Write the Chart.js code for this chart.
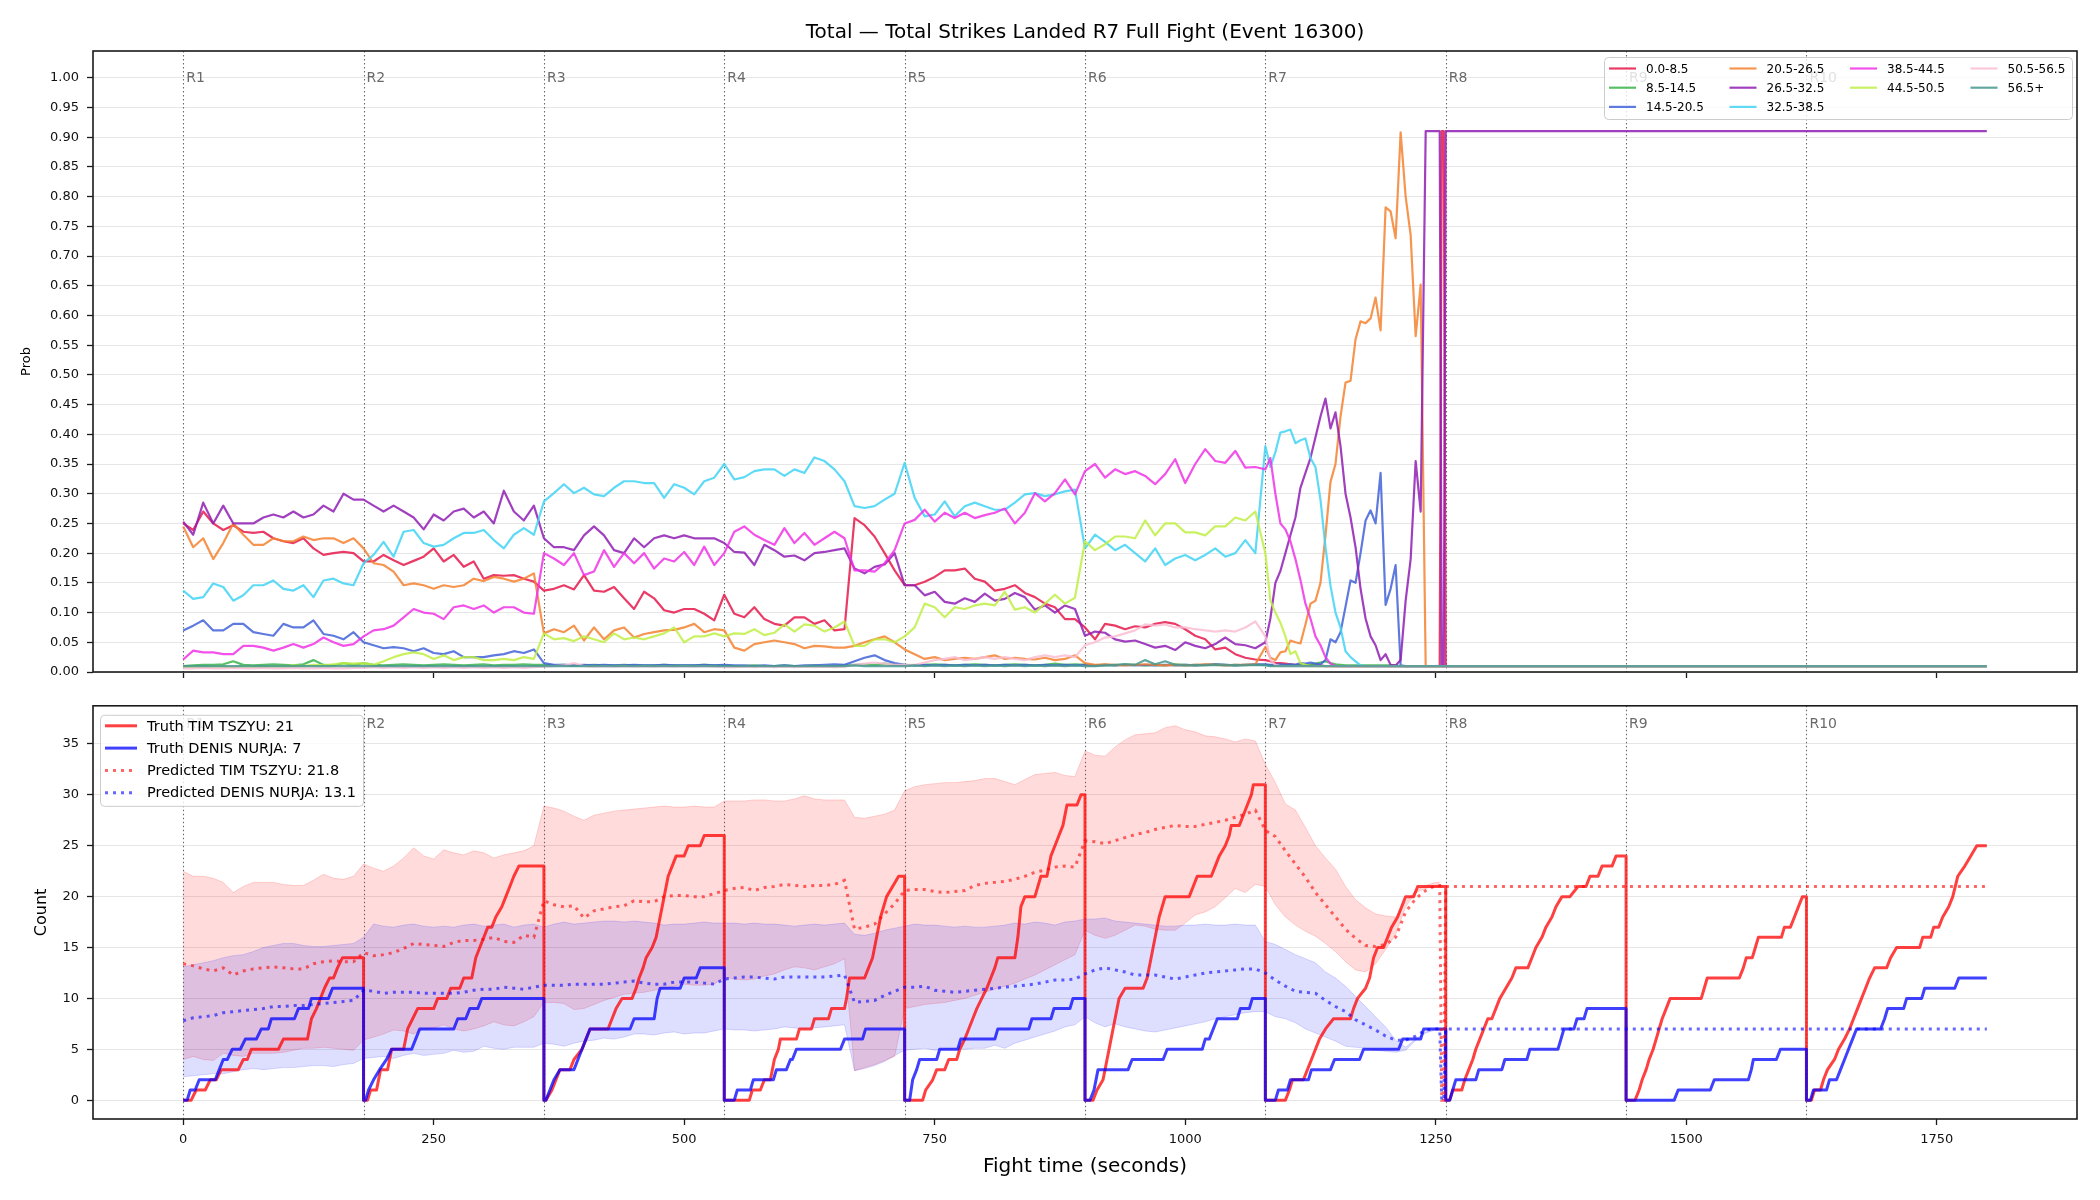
<!DOCTYPE html>
<html lang="en">
<head>
    <meta charset="UTF-8">
    <title>Total Strikes Landed R7 Full Fight</title>
    <script src="https://cdn.jsdelivr.net/npm/chart.js"></script>
    <style>
        body { margin: 0; background: #fff; font-family: 'DejaVu Sans', sans-serif; }
        .page { position: relative; width: 2100px; height: 1200px; }
        #title { position: absolute; left: 93px; width: 1984px; top: 19px; text-align: center; font-size: 20px; line-height: 24px; color: #000; }
        #probChart { position: absolute; left: 0; top: 0; }
        #countChart { position: absolute; left: 0; top: 690px; }
    </style>
</head>
<body>
<div class="page">
    <canvas id="probChart" width="2100" height="690"></canvas>
    <canvas id="countChart" width="2100" height="510"></canvas>
    <div id="title">Total — Total Strikes Landed R7 Full Fight (Event 16300)</div>
</div>

<script>
    // ---- shared axis data ----
    const timeTicks = [0, 250, 500, 750, 1000, 1250, 1500, 1750];
    const probTicks = [0, 0.05, 0.1, 0.15, 0.2, 0.25, 0.3, 0.35, 0.4, 0.45, 0.5, 0.55, 0.6, 0.65, 0.7, 0.75, 0.8, 0.85, 0.9, 0.95, 1.0];
    const countTicks = [0, 5, 10, 15, 20, 25, 30, 35];
    const roundStarts = [0, 180, 360, 540, 720, 900, 1080, 1260, 1440, 1620];
    const roundNames = ['R1', 'R2', 'R3', 'R4', 'R5', 'R6', 'R7', 'R8', 'R9', 'R10'];

    // ---- top panel: bucket probabilities ----
    const probTimes = [
        0, 10, 20, 30, 40, 50, 60, 70, 80, 90, 100, 110, 120, 130, 140, 150, 160, 170,
        180, 190, 200, 210, 220, 230, 240, 250, 260, 270, 280, 290, 300, 310, 320, 330, 340, 350,
        360, 370, 380, 390, 400, 410, 420, 430, 440, 450, 460, 470, 480, 490, 500, 510, 520, 530,
        540, 550, 560, 570, 580, 590, 600, 610, 620, 630, 640, 650, 660, 670, 680, 690, 700, 710,
        720, 730, 740, 750, 760, 770, 780, 790, 800, 810, 820, 830, 840, 850, 860, 870, 880, 890,
        900, 910, 920, 930, 940, 950, 960, 970, 980, 990, 1000, 1010, 1020, 1030, 1040, 1050, 1060, 1070,
        1080, 1085, 1090, 1095, 1100, 1105, 1110, 1115, 1120, 1125, 1130, 1135, 1140, 1145, 1150, 1155, 1160, 1165,
        1170, 1175, 1180, 1185, 1190, 1195, 1200, 1205, 1210, 1215, 1220, 1225, 1230, 1235, 1240, 1245, 1250,
        1254, 1256, 1258, 1260, 1800
    ];
    const probLabels = ['0.0-8.5', '8.5-14.5', '14.5-20.5', '20.5-26.5', '26.5-32.5',
                        '32.5-38.5', '38.5-44.5', '44.5-50.5', '50.5-56.5', '56.5+'];
    const probColors = ['#e6194b', '#3cb44b', '#4363d8', '#f58231', '#911eb4',
                        '#42d4f4', '#f032e6', '#bfef45', '#fabed4', '#469990'];

    const bin0to8 = [
        .25, .239, .27, .25, .239, .247, .236, .234, .236, .225, .22, .217, .225, .208, .197, .2, .202, .2,
        .186, .186, .197, .188, .18, .187, .194, .208, .186, .197, .177, .186, .157, .163, .162, .163, .157, .152,
        .137, .14, .146, .139, .163, .137, .135, .143, .124, .106, .135, .124, .104, .1, .106, .106, .098, .087,
        .13, .098, .092, .109, .089, .081, .078, .092, .092, .081, .087, .07, .072, .259, .247, .228, .2, .171,
        .146, .146, .152, .16, .171, .171, .174, .157, .152, .137, .14, .146, .133, .126, .115, .109, .089, .089,
        .075, .055, .081, .078, .072, .077, .075, .081, .084, .081, .072, .061, .055, .038, .041, .03, .024, .021,
        .02, .018, .015, .015, .014,
        .013, .012, .012, .012, .011,
        .011, .011, .01, .01, .01,
        .01, .01, .01, .01, .01,
        .01, .01, .01, .01, .01,
        .01, .01, .01, .01, .01,
        .01, .01, .01, .01, .01,
        .01, .91, .91, .01, .01
    ];
    const bin8to14 = [
        .01, .011, .012, .012, .013, .018, .012, .011, .012, .013, .012, .011, .013, .02, .012, .011, .015, .012,
        .015, .012, .011, .012, .013, .012, .011, .012, .013, .012, .011, .012, .013, .011, .012, .012, .013, .012,
        .012, .011, .012, .011, .011, .012, .011, .011, .012, .011, .011, .011, .012, .011, .011, .011, .012, .011,
        .011, .01, .01, .011, .01, .01, .011, .01, .01, .011, .01, .01, .011, .012, .013, .012, .014, .012,
        .012, .011, .012, .013, .012, .011, .012, .013, .012, .011, .012, .013, .012, .011, .012, .014, .012, .013,
        .012, .011, .012, .011, .013, .012, .011, .012, .011, .013, .012, .011, .012, .013, .012, .011, .012, .012,
        .012, .011, .011, .011, .011,
        .012, .011, .012, .012, .013,
        .014, .016, .018, .015, .013,
        .012, .011, .011, .011, .011,
        .011, .011, .011, .011, .011,
        .011, .011, .01, .01, .01,
        .01, .01, .01, .01, .01,
        .01, .01, .01, .01, .01
    ];
    const bin14to20 = [
        .07, .078, .087, .07, .07, .081, .081, .067, .064, .061, .081, .075, .075, .087, .064, .061, .055, .067,
        .05, .045, .04, .042, .04, .035, .04, .032, .03, .035, .025, .025, .025, .028, .03, .035, .032, .038,
        .015, .012, .012, .011, .012, .011, .012, .011, .011, .012, .011, .011, .012, .011, .011, .011, .012, .011,
        .012, .011, .011, .01, .011, .01, .011, .01, .011, .011, .012, .013, .012, .018, .024, .028, .02, .015,
        .012, .011, .012, .011, .012, .011, .012, .011, .012, .011, .012, .011, .012, .011, .012, .011, .012, .011,
        .012, .011, .012, .011, .012, .011, .012, .011, .012, .011, .012, .011, .012, .013, .012, .011, .012, .013,
        .013, .012, .012, .013, .012,
        .013, .012, .015, .014, .016,
        .014, .013, .02, .055, .05,
        .067, .11, .154, .15, .2,
        .255, .272, .25, .335, .113,
        .14, .18, .011, .01, .01,
        .01, .01, .01, .01, .01,
        .01, .01, .01, .01, .01
    ];
    const bin20to26 = [
        .245, .21, .225, .19, .217, .25, .231, .214, .214, .225, .22, .22, .228, .222, .225, .225, .217, .225,
        .208, .183, .18, .169, .146, .149, .146, .14, .146, .143, .146, .157, .153, .16, .157, .152, .157, .166,
        .065, .072, .067, .078, .053, .075, .055, .07, .075, .058, .064, .067, .07, .071, .075, .081, .067, .072,
        .07, .041, .036, .047, .05, .053, .05, .047, .04, .044, .043, .041, .041, .044, .05, .055, .06, .05,
        .038, .03, .022, .025, .02, .022, .024, .022, .025, .028, .022, .024, .022, .021, .024, .02, .022, .028,
        .015, .012, .013, .012, .011, .012, .013, .012, .011, .012, .011, .012, .013, .012, .011, .012, .012, .013,
        .042, .024, .02, .033, .035,
        .053, .05, .048, .08, .115,
        .12, .15, .23, .32, .35,
        .43, .487, .49, .56, .59,
        .587, .595, .63, .575, .782,
        .775, .73, .908, .8, .735,
        .565, .652, .01, .01, .01,
        .01, .01, .01, .01, .01
    ];
    const bin26to32 = [
        .253, .231, .285, .25, .28, .25, .25, .25, .26, .265, .26, .27, .26, .265, .28, .27, .30, .29,
        .29, .28, .27, .28, .27, .26, .24, .265, .255, .27, .275, .26, .27, .25, .305, .27, .255, .28,
        .225, .21, .21, .205, .23, .245, .23, .205, .2, .225, .21, .225, .23, .225, .23, .225, .225, .225,
        .217, .202, .201, .18, .214, .205, .194, .196, .188, .2, .202, .205, .208, .174, .166, .177, .181, .2,
        .146, .146, .129, .135, .118, .115, .124, .118, .132, .12, .123, .133, .126, .105, .112, .1, .112, .106,
        .061, .068, .066, .055, .051, .053, .047, .041, .044, .037, .05, .044, .04, .047, .058, .047, .045, .04,
        .05, .09, .15, .17, .2,
        .23, .26, .31, .335, .36,
        .395, .43, .46, .41, .437,
        .38, .3, .26, .21, .14,
        .09, .06, .045, .02, .03,
        .012, .011, .02, .12, .19,
        .355, .27, .91, .91, .91,
        .91, .01, .01, .91, .91
    ];
    const bin32to38 = [
        .137, .123, .126, .149, .143, .12, .129, .146, .146, .154, .14, .137, .146, .126, .154, .157, .149, .146,
        .183, .197, .219, .194, .236, .239, .217, .211, .214, .225, .234, .234, .239, .222, .208, .231, .242, .231,
        .287, .301, .316, .301, .31, .299, .296, .31, .321, .321, .318, .318, .293, .316, .31, .299, .321, .327,
        .35, .324, .328, .338, .341, .341, .33, .341, .335, .361, .355, .341, .321, .279, .276, .279, .29, .3,
        .352, .293, .262, .265, .287, .262, .279, .285, .279, .273, .273, .285, .299, .301, .296, .299, .304, .307,
        .208, .231, .219, .205, .214, .2, .186, .208, .18, .191, .197, .188, .197, .208, .194, .2, .222, .2,
        .38, .345, .37, .403, .405,
        .408, .385, .39, .393, .36,
        .345, .29, .21, .145, .1,
        .075, .035, .025, .018, .011,
        .01, .01, .01, .01, .01,
        .01, .01, .01, .01, .01,
        .01, .01, .01, .01, .01,
        .01, .01, .01, .01, .01
    ];
    const bin38to44 = [
        .021, .036, .033, .033, .03, .03, .044, .044, .041, .036, .041, .047, .041, .047, .058, .05, .044, .047,
        .06, .07, .072, .078, .092, .106, .1, .098, .089, .109, .112, .106, .112, .1, .109, .109, .1, .098,
        .2, .191, .18, .2, .163, .169, .205, .177, .2, .183, .2, .174, .191, .186, .202, .18, .211, .18,
        .2, .236, .245, .231, .222, .214, .242, .217, .234, .214, .225, .236, .225, .171, .171, .169, .183, .205,
        .25, .256, .273, .253, .268, .259, .268, .259, .264, .268, .275, .25, .268, .301, .287, .301, .324, .299,
        .338, .35, .327, .341, .333, .338, .33, .316, .333, .358, .318, .35, .375, .355, .352, .372, .344, .345,
        .341, .36, .3, .25, .24,
        .22, .19, .155, .115, .09,
        .06, .045, .025, .014, .01,
        .01, .01, .01, .01, .01,
        .01, .01, .01, .01, .01,
        .01, .01, .01, .01, .01,
        .01, .01, .01, .01, .01,
        .01, .01, .01, .01, .01
    ];
    const bin44to50 = [
        .008, .009, .008, .01, .009, .008, .01, .009, .008, .01, .009, .011, .01, .012, .011, .013, .015, .014,
        .015, .012, .018, .025, .03, .033, .03, .022, .028, .02, .025, .025, .02, .02, .022, .02, .025, .022,
        .065, .055, .057, .052, .06, .055, .05, .065, .055, .058, .055, .06, .065, .075, .05, .06, .06, .065,
        .06, .065, .064, .072, .062, .066, .08, .068, .08, .078, .068, .075, .085, .044, .044, .055, .055, .05,
        .06, .075, .115, .109, .092, .109, .106, .112, .115, .112, .135, .105, .109, .1, .115, .13, .115, .125,
        .22, .205, .215, .228, .228, .225, .255, .23, .25, .25, .235, .235, .23, .245, .245, .26, .255, .27,
        .2, .12, .1, .083, .06,
        .03, .035, .015, .012, .01,
        .01, .01, .01, .01, .01,
        .01, .01, .01, .01, .01,
        .01, .01, .01, .01, .01,
        .01, .01, .01, .01, .01,
        .01, .01, .01, .01, .01,
        .01, .01, .01, .01, .01
    ];
    const bin50to56 = [
        .006, .006, .007, .006, .006, .007, .006, .006, .007, .006, .006, .007, .006, .006, .007, .006, .006, .007,
        .007, .008, .007, .008, .007, .008, .007, .008, .007, .008, .007, .008, .007, .008, .007, .008, .007, .008,
        .009, .01, .011, .015, .01, .009, .01, .009, .01, .009, .01, .009, .01, .009, .01, .009, .01, .009,
        .008, .008, .009, .008, .009, .008, .009, .008, .009, .008, .009, .008, .009, .012, .014, .016, .014, .012,
        .012, .012, .016, .02, .022, .025, .02, .022, .025, .022, .025, .022, .02, .025, .028, .025, .028, .025,
        .045, .05, .058, .06, .065, .07, .08, .078, .08, .075, .075, .072, .07, .068, .07, .068, .075, .085,
        .06, .02, .012, .01, .01,
        .01, .01, .01, .01, .01,
        .01, .01, .01, .01, .01,
        .01, .01, .01, .01, .01,
        .01, .01, .01, .01, .01,
        .01, .01, .01, .01, .01,
        .01, .01, .01, .01, .01,
        .01, .01, .01, .01, .01
    ];
    const bin56up = [
        .01, .01, .01, .01, .01, .01, .01, .01, .01, .01, .01, .01, .01, .01, .01, .01, .01, .01,
        .01, .01, .01, .01, .01, .01, .01, .01, .01, .01, .01, .01, .01, .01, .01, .01, .01, .01,
        .01, .01, .01, .01, .01, .01, .01, .01, .01, .01, .01, .01, .01, .01, .01, .01, .01, .01,
        .01, .01, .01, .01, .01, .01, .01, .01, .01, .01, .01, .01, .01, .011, .01, .01, .01, .01,
        .01, .011, .01, .011, .01, .011, .01, .011, .01, .011, .01, .011, .01, .011, .01, .011, .01, .011,
        .01, .01, .011, .012, .013, .012, .02, .013, .018, .012, .011, .012, .011, .012, .011, .012, .011, .012,
        .011, .01, .01, .01, .01,
        .01, .01, .01, .01, .01,
        .01, .01, .01, .01, .01,
        .01, .01, .01, .01, .01,
        .01, .01, .01, .01, .01,
        .01, .01, .01, .01, .01,
        .01, .01, .01, .01, .01,
        .01, .01, .01, .01, .01
    ];
    const probSeries = [bin0to8, bin8to14, bin14to20, bin20to26, bin26to32,
                        bin32to38, bin38to44, bin44to50, bin50to56, bin56up];

    // ---- bottom panel: counts ----
    const predTimes = [
        0, 10, 20, 30, 40, 50, 60, 70, 80, 90, 100, 110, 120, 130, 140, 150, 160, 170,
        180, 190, 200, 210, 220, 230, 240, 250, 260, 270, 280, 290, 300, 310, 320, 330, 340, 350,
        360, 370, 380, 390, 400, 410, 420, 430, 440, 450, 460, 470, 480, 490, 500, 510, 520, 530,
        540, 550, 560, 570, 580, 590, 600, 610, 620, 630, 640, 650, 660, 670, 680, 690, 700, 710,
        720, 730, 740, 750, 760, 770, 780, 790, 800, 810, 820, 830, 840, 850, 860, 870, 880, 890,
        900, 910, 920, 930, 940, 950, 960, 970, 980, 990, 1000, 1010, 1020, 1030, 1040, 1050, 1060, 1070,
        1080, 1090, 1100, 1110, 1120, 1130, 1140, 1150, 1160, 1170, 1180, 1190, 1200, 1210, 1220, 1230, 1240, 1250,
        1254, 1256, 1258, 1260, 1800
    ];
    const tszyuPred = [
        13.4, 13.2, 12.9, 12.7, 13.0, 12.3, 12.7, 12.9, 13.0, 13.1, 13.0, 12.9, 12.9, 13.4, 13.6, 13.7, 13.6, 13.6,
        14.5, 14.2, 14.3, 14.5, 14.9, 15.4, 15.3, 15.2, 15.1, 15.5, 15.7, 15.7, 15.8, 16.0, 15.6, 15.5, 16.2, 16.0,
        19.6, 19.2, 19.0, 19.1, 17.9, 18.6, 18.8, 19.0, 19.1, 19.6, 19.5, 19.5, 20.0, 20.1, 20.1, 20.0, 20.0, 20.3,
        20.6, 20.8, 20.9, 20.6, 20.9, 21.0, 21.2, 21.1, 21.0, 21.1, 21.1, 21.2, 21.6, 16.8, 17.0, 17.3, 18.3, 19.3,
        20.6, 20.7, 20.7, 20.5, 20.4, 20.5, 20.6, 21.1, 21.3, 21.4, 21.5, 21.7, 22.0, 22.4, 22.6, 22.9, 23.0, 22.9,
        25.5, 25.4, 25.2, 25.5, 25.8, 26.1, 26.3, 26.6, 26.8, 27.0, 26.9, 26.9, 27.1, 27.3, 27.5, 27.8, 28.1, 28.5,
        26.5, 25.9, 24.5, 23.2, 21.9, 20.4, 19.2, 18.0, 16.8, 15.9, 15.2, 15.1, 15.3, 16.0, 18.5, 19.8, 20.6, 21.1,
        21.1, 0, 0, 21.0, 21.0
    ];
    const tszyuHi = [
        22.5, 22.0, 22.0, 21.8, 21.4, 20.4, 21.0, 21.4, 21.4, 21.4, 21.2, 21.1, 21.1, 21.6, 22.2, 21.8, 21.7, 22.0,
        23.2, 22.8, 22.5, 23.0, 23.8, 24.8, 24.0, 23.7, 24.6, 24.3, 24.1, 24.5, 24.3, 23.8, 24.1, 24.3, 24.5, 25.0,
        28.9, 28.7, 28.4, 27.9, 27.5, 28.0, 28.2, 28.4, 28.5, 28.6, 28.7, 28.8, 28.9, 28.8, 28.8, 28.9, 28.8, 28.8,
        29.4, 29.4, 29.4, 29.5, 29.5, 29.4, 29.4, 29.6, 29.9, 29.6, 29.5, 29.5, 29.5, 27.8, 27.7, 27.9, 28.1, 28.5,
        30.4, 30.8, 31.0, 31.1, 31.2, 31.2, 31.3, 31.4, 31.6, 31.6, 31.3, 31.0, 31.5, 32.0, 32.1, 32.2, 31.9, 31.8,
        34.3, 33.9, 33.8, 34.7, 35.4, 35.9, 36.0, 36.1, 36.6, 36.8, 36.4, 36.2, 35.8, 35.7, 35.5, 35.2, 35.5, 35.3,
        33.0, 31.2, 29.1, 28.5, 26.8, 25.0, 23.8, 22.7, 21.0, 19.7, 18.9, 18.3, 18.1, 18.0, 19.5, 20.6, 21.1, 21.4,
        21.4, null, null, null, null
    ];
    const tszyuLo = [
        4.0, 4.3, 4.0, 3.9, 4.6, 4.4, 4.3, 4.6, 4.6, 4.6, 4.7, 4.9, 5.1, 5.1, 5.2, 5.1, 5.0, 4.9,
        5.9, 6.2, 6.5, 6.9, 6.8, 6.5, 7.0, 7.1, 7.4, 7.0, 6.8, 7.0, 7.3, 7.7, 7.4, 7.3, 7.7, 8.2,
        9.6, 9.6, 9.5, 8.9, 9.0, 9.4, 9.8, 10.1, 10.4, 10.5, 10.6, 10.8, 11.0, 11.2, 11.4, 11.3, 11.3, 11.4,
        12.1, 11.9, 11.8, 11.9, 12.2, 12.4, 12.8, 13.1, 13.0, 12.8, 13.1, 13.4, 13.9, 2.9, 3.2, 3.5, 3.9, 4.3,
        9.0, 9.2, 9.4, 9.5, 9.6, 9.8, 10.0, 10.3, 10.6, 10.9, 11.2, 11.5, 11.9, 12.3, 12.8, 13.3, 13.8, 14.3,
        16.7, 16.2, 15.9, 16.2, 16.7, 17.2, 17.1, 16.8, 16.7, 16.7, 17.4, 18.2, 18.5, 19.0, 19.9, 20.8, 20.4, 21.2,
        21.0, 19.2, 18.0, 17.2, 16.6, 16.1, 15.4, 14.6, 13.6, 12.8, 12.6, 13.4, 14.8, 16.3, 19.0, 20.4, 20.8, 21.0,
        21.0, null, null, null, null
    ];
    const nurjaPred = [
        7.8, 8.1, 8.2, 8.3, 8.6, 8.7, 8.8, 8.9, 9.0, 9.2, 9.2, 9.3, 9.3, 9.4, 9.5, 9.6, 9.7, 9.8,
        10.8, 10.7, 10.5, 10.6, 10.6, 10.6, 10.5, 10.5, 10.5, 10.5, 10.6, 10.8, 10.9, 10.9, 11.1, 11.0, 10.9, 11.1,
        11.3, 11.3, 11.3, 11.4, 11.4, 11.4, 11.4, 11.5, 11.6, 11.7, 11.5, 11.4, 11.4, 11.6, 11.6, 11.6, 11.5, 11.4,
        11.9, 12.0, 12.1, 12.1, 12.0, 11.9, 12.1, 12.1, 12.1, 12.1, 12.1, 12.2, 12.3, 9.6, 9.7, 9.8, 10.3, 10.7,
        11.1, 11.1, 11.2, 10.8, 10.7, 10.6, 10.7, 10.8, 10.9, 11.0, 11.1, 11.2, 11.3, 11.4, 11.6, 11.8, 11.8, 11.9,
        12.4, 12.8, 13.0, 12.8, 12.6, 12.3, 12.3, 12.3, 12.1, 11.9, 12.1, 12.3, 12.5, 12.6, 12.7, 12.8, 12.9, 12.9,
        12.5, 11.8, 11.2, 10.7, 10.6, 10.5, 9.8, 9.2, 8.7, 7.9, 7.4, 6.9, 6.3, 5.9, 5.9, 6.3, 6.9, 7.0,
        7.0, 0, 0, 7.0, 7.0
    ];
    const nurjaHi = [
        13.1, 13.3, 13.5, 13.7, 14.0, 14.2, 14.3, 14.6, 15.0, 15.2, 15.4, 15.4, 15.2, 15.1, 15.1, 15.2, 15.3, 15.4,
        16.0, 17.3, 17.1, 17.0, 17.2, 17.3, 17.1, 17.0, 17.1, 17.0, 17.2, 17.3, 17.1, 17.2, 17.3, 17.0, 17.2, 17.3,
        17.0, 17.3, 17.5, 17.3, 17.4, 17.5, 17.6, 17.6, 17.5, 17.6, 17.5, 17.4, 17.2, 17.3, 17.3, 17.4, 17.5, 17.4,
        17.4, 17.4, 17.3, 17.4, 17.3, 17.3, 17.2, 17.1, 17.2, 17.3, 17.2, 17.3, 17.4, 16.3, 16.2, 16.4, 16.7, 16.9,
        17.1, 17.3, 17.2, 17.2, 17.1, 17.0, 17.1, 17.0, 17.0, 17.1, 17.2, 17.4, 17.3, 17.5, 17.4, 17.2, 17.5, 17.6,
        17.8, 17.8, 17.9, 17.6, 17.5, 17.4, 17.3, 17.2, 17.1, 17.1, 17.2, 17.2, 17.3, 17.2, 17.2, 17.3, 17.2, 17.2,
        15.6, 15.3, 14.8, 14.3, 13.9, 13.5, 12.6, 12.0, 11.2, 10.2, 9.2, 8.2, 7.2, 5.9, 5.2, 6.0, 6.7, 7.0,
        7.0, null, null, null, null
    ];
    const nurjaLo = [
        2.3, 2.4, 2.5, 2.6, 2.6, 2.8, 3.0, 3.1, 3.0, 3.1, 3.2, 3.2, 3.3, 3.4, 3.4, 3.3, 3.5, 3.6,
        4.1, 4.2, 4.3, 4.1, 4.4, 4.6, 4.4, 4.5, 4.6, 4.9, 4.7, 4.8, 5.3, 5.1, 5.0, 5.2, 5.2, 5.2,
        5.6, 5.5, 5.3, 5.6, 5.8, 5.9, 6.1, 6.0, 6.2, 6.5, 6.5, 6.4, 6.6, 6.7, 6.5, 6.6, 6.6, 6.8,
        7.0, 6.9, 6.9, 6.8, 6.9, 7.0, 7.2, 7.1, 7.0, 7.1, 7.2, 7.3, 7.4, 2.9, 3.1, 3.4, 3.8, 4.4,
        4.9, 5.0, 5.1, 4.9, 5.0, 5.1, 5.0, 5.1, 5.1, 5.4, 5.1, 5.6, 5.9, 6.2, 6.5, 6.8, 7.2, 7.4,
        8.2, 7.6, 7.2, 7.5, 7.2, 7.0, 6.8, 6.7, 6.9, 7.1, 7.3, 7.5, 7.7, 8.0, 8.2, 8.4, 8.6, 8.7,
        8.7, 8.2, 8.0, 7.6, 7.0, 6.6, 6.2, 5.8, 5.3, 5.2, 5.1, 4.9, 4.8, 4.7, 4.9, 5.9, 6.6, 6.9,
        6.9, null, null, null, null
    ];

    // truth counts: [time, count] at each corner of the running tally
    const tszyuTruth = [
        [0,0],[8,0],[13,1],[22,1],[27,2],[33,2],[38,3],[55,3],[60,4],[64,4],[68,5],[95,5],[100,6],[124,6],[128,8],[133,9],[137,10],[141,11],[146,12],[150,12],[154,13],[159,14],[180,14],
        [180,0],[184,0],[187,1],[193,1],[197,3],[204,3],[208,5],[220,5],[224,7],[229,8],[234,9],[250,9],[254,10],[263,10],[267,11],[276,11],[280,12],[288,12],[292,14],[296,15],[300,16],[304,17],[308,17],[312,18],[318,19],[322,20],[326,21],[330,22],[335,23],[360,23],
        [360,0],[362,0],[368,1],[372,2],[376,3],[386,3],[390,4],[398,5],[402,6],[406,7],[424,7],[428,8],[432,9],[438,10],[448,10],[452,11],[455,12],[459,13],[462,14],[468,15],[472,16],[476,18],[480,20],[484,22],[488,23],[492,24],[500,24],[504,25],[516,25],[520,26],[540,26],
        [540,0],[565,0],[568,1],[576,1],[580,2],[586,2],[590,4],[594,5],[596,6],[612,6],[615,7],[627,7],[630,8],[644,8],[647,9],[660,9],[662,10],[665,12],[680,12],[684,13],[688,14],[692,16],[696,18],[702,20],[708,21],[714,22],[720,22],
        [720,0],[738,0],[741,1],[748,2],[752,3],[760,3],[764,4],[772,4],[775,5],[780,6],[784,7],[788,8],[792,9],[797,10],[802,11],[806,12],[810,13],[813,14],[830,14],[833,16],[836,19],[840,20],[850,20],[853,21],[856,22],[862,22],[866,24],[870,25],[874,26],[878,27],[882,29],[892,29],[896,30],[900,30],
        [900,0],[908,0],[912,1],[918,2],[922,4],[926,6],[930,8],[934,10],[940,11],[958,11],[962,12],[966,14],[970,16],[974,18],[980,20],[1004,20],[1008,21],[1012,22],[1026,22],[1030,23],[1034,24],[1040,25],[1044,26],[1046,27],[1054,27],[1058,28],[1062,29],[1066,30],[1068,31],[1080,31],
        [1080,0],[1100,0],[1104,1],[1107,2],[1118,2],[1122,3],[1126,4],[1130,5],[1134,6],[1140,7],[1148,8],[1165,8],[1168,9],[1172,10],[1180,11],[1184,12],[1188,14],[1192,15],[1198,15],[1202,16],[1206,17],[1212,18],[1216,19],[1220,20],[1228,20],[1232,21],[1260,21],
        [1260,0],[1264,0],[1267,1],[1276,1],[1279,2],[1283,3],[1287,4],[1290,5],[1294,6],[1298,7],[1302,8],[1306,8],[1310,9],[1314,10],[1320,11],[1326,12],[1330,13],[1342,13],[1346,14],[1350,15],[1356,16],[1360,17],[1366,18],[1370,19],[1376,20],[1384,20],[1392,21],[1400,21],[1404,22],[1412,22],[1416,23],[1426,23],[1430,24],[1440,24],
        [1440,0],[1449,0],[1453,1],[1456,2],[1460,3],[1463,4],[1467,5],[1470,6],[1473,7],[1476,8],[1480,9],[1484,10],[1515,10],[1518,11],[1521,12],[1553,12],[1557,13],[1560,14],[1566,14],[1569,15],[1572,16],[1595,16],[1598,17],[1604,17],[1608,18],[1612,19],[1616,20],[1620,20],
        [1620,0],[1625,0],[1628,1],[1634,1],[1637,2],[1641,3],[1648,4],[1652,5],[1658,6],[1663,7],[1667,8],[1671,9],[1675,10],[1679,11],[1683,12],[1688,13],[1700,13],[1704,14],[1710,15],[1733,15],[1736,16],[1744,16],[1747,17],[1752,17],[1756,18],[1762,19],[1766,20],[1771,22],[1778,23],[1784,24],[1790,25],[1800,25]
    ];
    const nurjaTruth = [
        [0,0],[4,0],[7,1],[12,1],[16,2],[32,2],[36,3],[40,4],[44,4],[49,5],[57,5],[62,6],[73,6],[78,7],[85,7],[88,8],[111,8],[115,9],[125,9],[128,10],[145,10],[149,11],[180,11],
        [180,0],[182,0],[185,1],[190,2],[196,3],[203,4],[208,5],[228,5],[232,6],[236,7],[270,7],[274,8],[282,8],[286,9],[294,9],[298,10],[360,10],
        [360,0],[362,0],[366,1],[370,2],[376,3],[390,3],[394,4],[398,5],[402,6],[406,7],[446,7],[450,8],[470,8],[473,10],[476,11],[496,11],[500,12],[512,12],[516,13],[540,13],
        [540,0],[550,0],[553,1],[566,1],[569,2],[589,2],[592,3],[602,3],[606,4],[608,4],[612,5],[656,5],[660,6],[678,6],[681,7],[720,7],
        [720,0],[725,0],[728,2],[732,3],[735,4],[752,4],[755,5],[773,5],[776,6],[810,6],[813,7],[844,7],[847,8],[866,8],[869,9],[885,9],[888,10],[900,10],
        [900,0],[905,0],[909,1],[913,3],[943,3],[947,4],[978,4],[982,5],[1017,5],[1020,6],[1024,6],[1028,7],[1032,8],[1052,8],[1055,9],[1064,9],[1067,10],[1080,10],
        [1080,0],[1090,0],[1093,1],[1102,1],[1105,2],[1123,2],[1126,3],[1145,3],[1149,4],[1174,4],[1178,5],[1213,5],[1217,6],[1235,6],[1238,7],[1260,7],
        [1260,0],[1264,0],[1267,1],[1270,2],[1290,2],[1293,3],[1316,3],[1319,4],[1341,4],[1344,5],[1372,5],[1375,6],[1378,7],[1388,7],[1391,8],[1398,8],[1401,9],[1440,9],
        [1440,0],[1488,0],[1492,1],[1524,1],[1528,2],[1562,2],[1565,3],[1567,4],[1590,4],[1594,5],[1620,5],
        [1620,0],[1624,0],[1627,1],[1640,1],[1643,2],[1650,2],[1654,3],[1658,4],[1662,5],[1666,6],[1670,7],[1694,7],[1698,8],[1701,9],[1717,9],[1720,10],[1735,10],[1738,11],[1768,11],[1772,12],[1800,12]
    ];
    const countLabels = ['Truth TIM TSZYU: 21', 'Truth DENIS NURJA: 7',
                         'Predicted TIM TSZYU: 21.8', 'Predicted DENIS NURJA: 13.1'];

    // sanity check: every series must line up with its time axis
    probSeries.forEach((s, i) => {
        if (s.length !== probTimes.length) throw new Error(probLabels[i] + ' has ' + s.length + ' values, expected ' + probTimes.length);
    });
    [tszyuPred, tszyuHi, tszyuLo, nurjaPred, nurjaHi, nurjaLo].forEach((s, i) => {
        if (s.length !== predTimes.length) throw new Error('count series ' + i + ' has ' + s.length + ' values, expected ' + predTimes.length);
    });

    const FONT = "'DejaVu Sans', sans-serif";
    const pts = (xs, ys) => xs.map((x, i) => ({ x: x, y: ys[i] }));
    const pairs = list => list.map(p => ({ x: p[0], y: p[1] }));
    function withAlpha(hex, a) {
        const n = parseInt(hex.slice(1), 16);
        return 'rgba(' + (n >> 16) + ',' + ((n >> 8) & 255) + ',' + (n & 255) + ',' + a + ')';
    }

    // spines, round markers and legends
    const frame = {
        id: 'frame',
        afterDatasetsDraw(chart) {
            const { ctx, chartArea: a } = chart;
            ctx.save();
            ctx.strokeStyle = '#1a1a1a';
            ctx.lineWidth = 1.6;
            ctx.strokeRect(a.left, a.top, a.right - a.left, a.bottom - a.top);
            ctx.restore();
        }
    };

    const rounds = {
        id: 'rounds',
        beforeDatasetsDraw(chart) {
            const { ctx, chartArea: a, scales } = chart;
            ctx.save();
            ctx.strokeStyle = 'rgba(70,70,70,0.8)';
            ctx.lineWidth = 1.1;
            ctx.setLineDash([1.5, 2.5]);
            roundStarts.forEach(t => {
                const px = Math.round(scales.x.getPixelForValue(t)) + 0.5;
                ctx.beginPath();
                ctx.moveTo(px, a.top);
                ctx.lineTo(px, a.bottom);
                ctx.stroke();
            });
            ctx.restore();
        },
        afterDatasetsDraw(chart) {
            const { ctx, chartArea: a, scales } = chart;
            ctx.save();
            ctx.fillStyle = '#6a6a6a';
            ctx.font = '14px ' + FONT;
            ctx.textBaseline = 'middle';
            const y = a.top + (a.bottom - a.top) * 0.044;
            roundStarts.forEach((t, i) => {
                ctx.fillText(roundNames[i], scales.x.getPixelForValue(t) + 3, y);
            });
            ctx.restore();
        }
    };

    function legendFrame(ctx, x, y, w, h) {
        ctx.beginPath();
        ctx.roundRect(x + 0.5, y + 0.5, w, h, 4);
        ctx.fillStyle = 'rgba(255,255,255,0.8)';
        ctx.fill();
        ctx.strokeStyle = '#cccccc';
        ctx.lineWidth = 1;
        ctx.stroke();
    }

    const probLegend = {
        id: 'probLegend',
        afterDraw(chart) {
            const { ctx, chartArea: a } = chart;
            const boxW = 468, boxH = 62;
            const left = a.right - boxW - 5, top = a.top + 6;
            const perCol = [3, 3, 2, 2];
            ctx.save();
            legendFrame(ctx, left, top, boxW, boxH);
            ctx.font = '12px ' + FONT;
            ctx.textBaseline = 'middle';
            let k = 0;
            perCol.forEach((n, c) => {
                for (let r = 0; r < n; r++, k++) {
                    const x0 = left + 5 + c * 120.5;
                    const y0 = top + 11.5 + r * 19.2;
                    ctx.strokeStyle = withAlpha(probColors[k], 0.85);
                    ctx.lineWidth = 2.2;
                    ctx.beginPath();
                    ctx.moveTo(x0, y0);
                    ctx.lineTo(x0 + 27, y0);
                    ctx.stroke();
                    ctx.fillStyle = '#000';
                    ctx.fillText(probLabels[k], x0 + 37, y0 + 1);
                }
            });
            ctx.restore();
        }
    };

    const countLegend = {
        id: 'countLegend',
        afterDraw(chart) {
            const { ctx, chartArea: a } = chart;
            const left = a.left + 7, top = a.top + 9;
            const styles = [
                { color: 'rgba(255,0,0,0.75)', dash: [] },
                { color: 'rgba(0,0,255,0.75)', dash: [] },
                { color: 'rgba(255,0,0,0.6)', dash: [3, 5] },
                { color: 'rgba(0,0,255,0.6)', dash: [3, 5] }
            ];
            ctx.save();
            legendFrame(ctx, left, top, 263, 91);
            ctx.font = '14.5px ' + FONT;
            ctx.textBaseline = 'middle';
            countLabels.forEach((label, i) => {
                const y0 = top + 11 + i * 22.3;
                ctx.strokeStyle = styles[i].color;
                ctx.lineWidth = 3;
                ctx.setLineDash(styles[i].dash);
                ctx.beginPath();
                ctx.moveTo(left + 5, y0);
                ctx.lineTo(left + 37, y0);
                ctx.stroke();
                ctx.setLineDash([]);
                ctx.fillStyle = '#000';
                ctx.fillText(label, left + 47, y0 + 1);
            });
            ctx.restore();
        }
    };

    const tickFont = { family: FONT, size: 13 };

    // ---- top chart ----
    new Chart(document.getElementById('probChart'), {
        type: 'line',
        data: {
            datasets: probSeries.map((vals, i) => ({
                label: probLabels[i],
                data: pts(probTimes, vals),
                borderColor: withAlpha(probColors[i], 0.85),
                borderWidth: 2.2,
                borderJoinStyle: 'round',
                pointRadius: 0,
                fill: false,
                order: probSeries.length - i
            }))
        },
        options: {
            responsive: false,
            animation: false,
            devicePixelRatio: 1,
            layout: { padding: { left: 0, right: 23, top: 51, bottom: 0 } },
            plugins: { legend: { display: false }, tooltip: { enabled: false } },
            scales: {
                x: {
                    type: 'linear', min: -90, max: 1890,
                    afterBuildTicks: s => { s.ticks = timeTicks.map(v => ({ value: v })); },
                    ticks: { display: false },
                    grid: { drawOnChartArea: false, tickLength: 6, tickColor: '#1a1a1a', tickWidth: 1.3 },
                    border: { display: false },
                    afterFit: s => { s.height = 18; }
                },
                y: {
                    min: 0, max: 1.045,
                    afterBuildTicks: s => { s.ticks = probTicks.map(v => ({ value: v })); },
                    ticks: { callback: v => v.toFixed(2), font: tickFont, color: '#111', padding: 8, autoSkip: false },
                    grid: { color: '#e6e6e6', lineWidth: 1, tickLength: 6, tickColor: '#1a1a1a', tickWidth: 1.3 },
                    border: { display: false },
                    title: { display: true, text: 'Prob', font: { family: FONT, size: 13 }, color: '#000', padding: { top: 19, bottom: 0 } },
                    afterFit: s => { s.width = 93; }
                }
            }
        },
        plugins: [rounds, frame, probLegend]
    });

    // ---- bottom chart ----
    new Chart(document.getElementById('countChart'), {
        type: 'line',
        data: {
            datasets: [
                { data: pts(predTimes, tszyuHi), borderColor: 'rgba(255,0,0,0.16)', backgroundColor: 'rgba(255,0,0,0.14)', borderWidth: 1, pointRadius: 0, fill: '+1', order: 10 },
                { data: pts(predTimes, tszyuLo), borderColor: 'rgba(255,0,0,0.16)', borderWidth: 1, pointRadius: 0, fill: false, order: 9 },
                { data: pts(predTimes, nurjaHi), borderColor: 'rgba(0,0,255,0.14)', backgroundColor: 'rgba(0,0,255,0.13)', borderWidth: 1, pointRadius: 0, fill: '+1', order: 8 },
                { data: pts(predTimes, nurjaLo), borderColor: 'rgba(0,0,255,0.14)', borderWidth: 1, pointRadius: 0, fill: false, order: 7 },
                { data: pairs(tszyuTruth), borderColor: 'rgba(255,0,0,0.75)', borderWidth: 3, borderJoinStyle: 'round', pointRadius: 0, fill: false, order: 4 },
                { data: pairs(nurjaTruth), borderColor: 'rgba(0,0,255,0.75)', borderWidth: 3, borderJoinStyle: 'round', pointRadius: 0, fill: false, order: 3 },
                { data: pts(predTimes, tszyuPred), borderColor: 'rgba(255,0,0,0.6)', borderWidth: 3, borderDash: [3, 5], pointRadius: 0, fill: false, order: 2 },
                { data: pts(predTimes, nurjaPred), borderColor: 'rgba(0,0,255,0.6)', borderWidth: 3, borderDash: [3, 5], pointRadius: 0, fill: false, order: 1 }
            ]
        },
        options: {
            responsive: false,
            animation: false,
            devicePixelRatio: 1,
            layout: { padding: { left: 0, right: 23, top: 14, bottom: 0 } },
            plugins: { legend: { display: false }, tooltip: { enabled: false } },
            scales: {
                x: {
                    type: 'linear', min: -90, max: 1890,
                    afterBuildTicks: s => { s.ticks = timeTicks.map(v => ({ value: v })); },
                    ticks: { callback: v => String(v), font: tickFont, color: '#111', padding: 7, maxRotation: 0, autoSkip: false },
                    grid: { drawOnChartArea: false, tickLength: 6, tickColor: '#1a1a1a', tickWidth: 1.3 },
                    border: { display: false },
                    title: { display: true, text: 'Fight time (seconds)', font: { family: FONT, size: 20 }, color: '#000', padding: { top: 0, bottom: 21 } },
                    afterFit: s => { s.height = 81; }
                },
                y: {
                    min: -1.85, max: 38.75,
                    afterBuildTicks: s => { s.ticks = countTicks.map(v => ({ value: v })); },
                    ticks: { callback: v => String(v), font: tickFont, color: '#111', padding: 8, autoSkip: false },
                    grid: { color: '#e6e6e6', lineWidth: 1, tickLength: 6, tickColor: '#1a1a1a', tickWidth: 1.3 },
                    border: { display: false },
                    title: { display: true, text: 'Count', font: { family: FONT, size: 16 }, color: '#000', padding: { top: 32, bottom: 0 } },
                    afterFit: s => { s.width = 93; }
                }
            }
        },
        plugins: [rounds, frame, countLegend]
    });
</script>
</body>
</html>
